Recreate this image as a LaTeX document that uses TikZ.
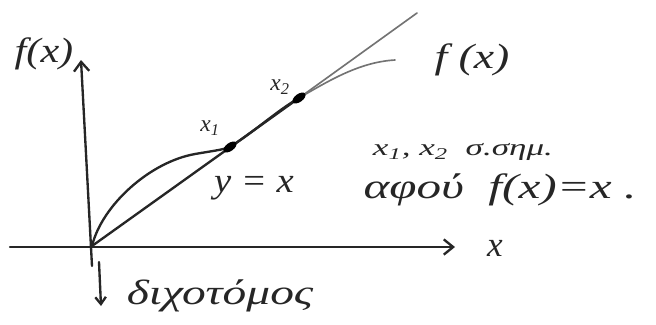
\documentclass[tikz,border=0pt]{standalone}
\usepackage{fontspec}
\setmainfont{Liberation Serif}
\usetikzlibrary{arrows.meta,calc,shapes.geometric}
\begin{document}
\begin{tikzpicture}[x=0.03cm,y=-0.03cm,
  ink/.style={line width=2pt, line cap=round, line join=round, black!85},
  thin ink/.style={line width=1.4pt, line cap=round, line join=round, black!55},
  axisarrow/.style={-{Straight Barb[length=8pt,width=13pt,line width=2pt]}},
  lbl/.style={font=\itshape\fontsize{30}{34}\selectfont, inner sep=0pt, black!85},
  small lbl/.style={font=\itshape\fontsize{20}{24}\selectfont, inner sep=0pt, black!85},
  fixdot/.style={ellipse, fill=black, draw=none, inner sep=0pt, minimum width=0.45cm, minimum height=0.24cm, rotate=35.6}]
\useasboundingbox (0,0) rectangle (656,324);
% coordinates
\coordinate (O) at (92,246);
\coordinate (ybot) at (92,266);
\coordinate (ytop) at (81,60);
\coordinate (xstart) at (10,247);
\coordinate (xend) at (455,247);
\coordinate (Lend) at (417,13);
\coordinate (Fend) at (395,60);
\coordinate (X1) at (230,147);
\coordinate (X2) at (299,98);
\coordinate (a1) at (99,262);
\coordinate (a2) at (101,306);
% axes
\draw[ink,axisarrow] (xstart) -- (xend);
\draw[ink,axisarrow] (ybot) -- (ytop);
% y = x
\draw[ink] (O) -- (X2);
\draw[thin ink] (X2) -- (Lend);
% f(x)
\draw[ink] (O) .. controls (102,205) and (150,162) .. (195,154)
  .. controls (212,151) and (222,150) .. (X1)
  .. controls (255,131) and (278,110) .. (X2);
\draw[thin ink] (X2) .. controls (330,80) and (360,62) .. (Fend);
% fixed points
\node[fixdot] (p1) at (X1) {};
\node[fixdot] (p2) at (X2) {};
% arrow to bisector label
\draw[ink,-{Straight Barb[length=6pt,width=9pt,line width=2pt]}] (a1) -- (a2);
% labels
\node[lbl] (fy) at (44,54) {\scalebox{1.2}[1]{f(x)}};
\node[lbl] (fr) at (472,60) {\scalebox{1.3}[1]{f (x)}};
\node[lbl] (xl) at (495,248) {x};
\node[small lbl] (l1) at (210,128) {x\textsubscript{1}};
\node[small lbl] (l2) at (280,87) {x\textsubscript{2}};
\node[lbl] (yx) at (254,188) {\scalebox{1.1}[1]{y = x}};
\node[small lbl] (note1) at (463,152) {\scalebox{1.5}[1]{x\textsubscript{1}, x\textsubscript{2} \ σ.σημ.}};
\node[lbl] (note2) at (500,190) {\scalebox{1.4}[1]{αφού \ f(x)=x .}};
\node[lbl] (bis) at (220,296) {\scalebox{1.35}[1]{διχοτόμος}};
\end{tikzpicture}
\end{document}
